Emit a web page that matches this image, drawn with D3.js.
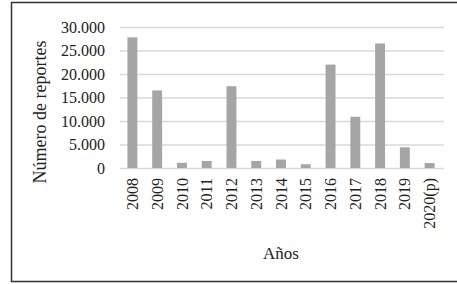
<!DOCTYPE html>
<html>
<head>
<meta charset="utf-8">
<script src="https://cdn.jsdelivr.net/npm/d3@7"></script>
<style>
  body { margin: 0; background: #fff; }
  svg text { font-family: "Liberation Serif", "Times New Roman", serif; fill: #222; }
</style>
</head>
<body>
<div class="chart"></div>
<script>
// Data
var years = ["2008", "2009", "2010", "2011", "2012", "2013", "2014", "2015", "2016", "2017", "2018", "2019", "2020(p)"];
var reports = [27800, 16500, 1100, 1500, 17400, 1500, 1800, 800, 22000, 10900, 26500, 4400, 1050];
var yTicks = [0, 5000, 10000, 15000, 20000, 25000, 30000];

var svgWidth = 457;
var svgHeight = 284;

var margin = {top: 27, right: 15, bottom: 116, left: 120};
var width = 442 - margin.left;
var height = 168 - margin.top;

var svg = d3.select(".chart")
    .append("svg")
    .attr("width", svgWidth)
    .attr("height", svgHeight);

// outer frame (right edge is cut off in the original)
svg.append("rect")
    .attr("x", 11.5)
    .attr("y", 2.5)
    .attr("width", 460)
    .attr("height", 279)
    .attr("fill", "none")
    .attr("stroke", "#333")
    .attr("stroke-width", 1.5);

var chartGroup = svg.append("g")
    .attr("transform", "translate(" + margin.left + "," + margin.top + ")");

var xBandScale = d3.scaleBand()
    .domain(years)
    .range([0, width])
    .paddingInner(0.6)
    .paddingOuter(0.3);

var yLinearScale = d3.scaleLinear()
    .domain([0, 30000])
    .range([height, 0]);

var fmt = function(d) { return d3.format(",")(d).replace(/,/g, "."); };

// gridlines + y labels
var leftAxis = d3.axisLeft(yLinearScale)
    .tickValues(yTicks)
    .tickSize(-width - 2)
    .tickPadding(16)
    .tickFormat(fmt);

var yAxis = chartGroup.append("g").call(leftAxis);
yAxis.select(".domain").remove();
yAxis.selectAll(".tick line")
    .attr("stroke", "#d9d9d9")
    .attr("stroke-width", 1.5);
yAxis.selectAll(".tick text")
    .style("font-size", "16px")
    .attr("x", -15);

// bars
chartGroup.selectAll("rect.bar")
    .data(years)
    .enter()
    .append("rect")
    .attr("class", "bar")
    .attr("x", d => xBandScale(d))
    .attr("width", xBandScale.bandwidth())
    .attr("y", (d, i) => yLinearScale(reports[i]))
    .attr("height", (d, i) => height - yLinearScale(reports[i]))
    .attr("fill", "#a5a5a5");

// x labels
var bottomAxis = d3.axisBottom(xBandScale).tickSize(0);
var xAxis = chartGroup.append("g")
    .attr("transform", `translate(0, ${height})`)
    .call(bottomAxis);
xAxis.select(".domain").remove();
xAxis.selectAll(".tick text")
    .style("font-size", "16px")
    .attr("transform", "rotate(-90)")
    .attr("text-anchor", "end")
    .attr("x", -10)
    .attr("y", 0)
    .attr("dy", "0.35em");

// axis titles
svg.append("text")
    .attr("transform", "translate(46, 112) rotate(-90)")
    .attr("text-anchor", "middle")
    .style("font-size", "18px")
    .text("Número de reportes");

svg.append("text")
    .attr("x", 281)
    .attr("y", 259)
    .attr("text-anchor", "middle")
    .style("font-size", "17px")
    .text("Años");
</script>
</body>
</html>
